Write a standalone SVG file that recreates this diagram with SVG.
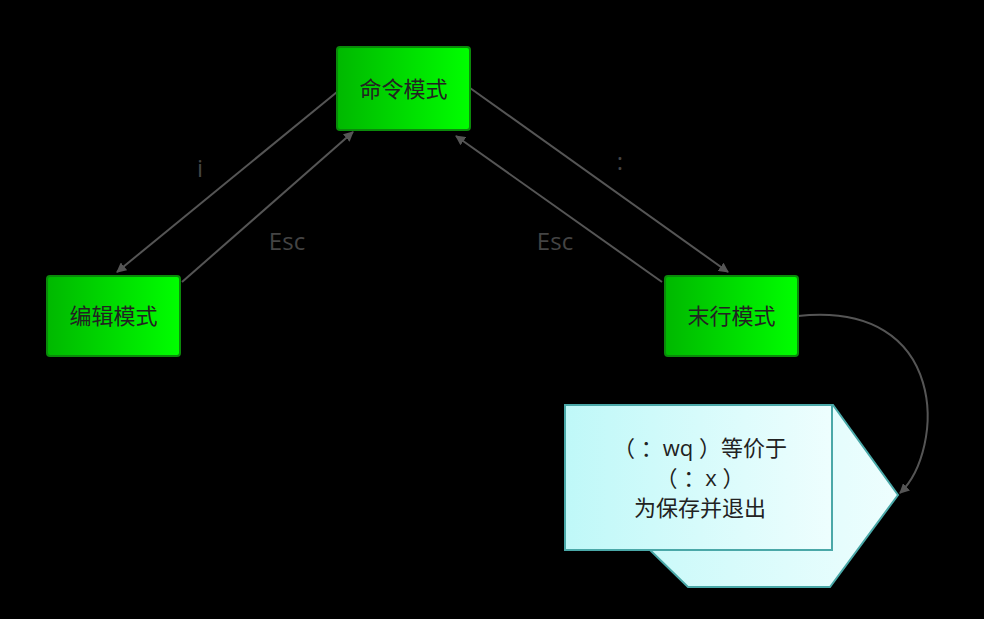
<svg xmlns="http://www.w3.org/2000/svg" width="984" height="619" viewBox="0 0 984 619">
<defs>
<linearGradient id="g" x1="0" y1="0" x2="1" y2="0"><stop offset="0" stop-color="#00b800"/><stop offset="1" stop-color="#00ff00"/></linearGradient>
<linearGradient id="c" x1="0" y1="0" x2="1" y2="0"><stop offset="0" stop-color="#bff8f8"/><stop offset="1" stop-color="#eefefe"/></linearGradient>
<marker id="a" markerWidth="10" markerHeight="10" refX="9" refY="5" orient="auto" markerUnits="userSpaceOnUse"><path d="M0,0 L10,5 L0,10 Z" fill="#555"/></marker>
</defs>
<style>
.n{fill:url(#g);stroke:#0a8a0a;stroke-width:2}
.t{font-family:"Open Sans","Noto Sans CJK SC",sans-serif;font-size:22px;fill:#222;text-anchor:middle}
.l{font-family:"Open Sans","Noto Sans CJK SC",sans-serif;font-size:24px;fill:#444;text-anchor:middle}
.e{stroke:#555;stroke-width:2;fill:none;marker-end:url(#a)}
</style>
<rect width="984" height="619" fill="#000"/>
<g id="connectors">
<line class="e" x1="337" y1="92" x2="117" y2="272"/>
<line class="e" x1="182" y1="282" x2="353" y2="132"/>
<line class="e" x1="470" y1="88" x2="728" y2="272"/>
<line class="e" x1="662" y1="282" x2="456" y2="136"/>
<path class="e" d="M798,316 C950,300 945,450 900,493"/>
<text class="l" x="200" y="177">i</text>
<text class="l" x="287" y="250">Esc</text>
<text class="l" x="620" y="170">:</text>
<text class="l" x="555" y="250">Esc</text>
</g>
<g id="cmd"><rect class="n" x="337" y="47" width="133" height="83" rx="3"/><text class="t" x="403.5" y="97">命令模式</text></g>
<g id="edit"><rect class="n" x="47" y="276" width="133" height="80" rx="3"/><text class="t" x="113.5" y="324">编辑模式</text></g>
<g id="last"><rect class="n" x="665" y="276" width="133" height="80" rx="3"/><text class="t" x="731.5" y="324">末行模式</text></g>
<g id="note">
<polygon points="565,405 833,405 898,495 830,587 688,587 650,550 565,550" fill="url(#c)" stroke="#4aa8a8" stroke-width="2"/>
<rect x="565" y="405" width="267" height="145" fill="url(#c)" stroke="#4aa8a8" stroke-width="2"/>
<text class="t" x="700" y="456">（ ：wq ）等价于</text>
<text class="t" x="700" y="486">（ ：x ）</text>
<text class="t" x="700" y="516">为保存并退出</text>
</g>
</svg>
